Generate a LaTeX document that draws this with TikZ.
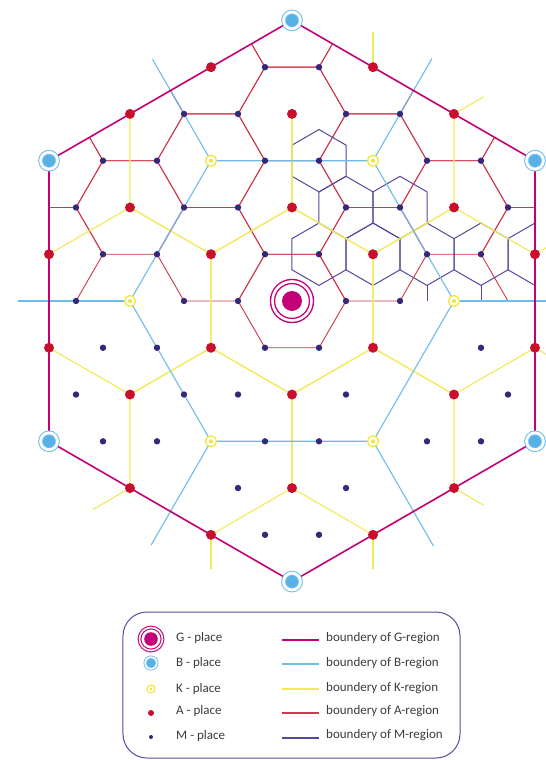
\documentclass[tikz,border=0pt]{standalone}
\usepackage{fontspec}
\setmainfont{Carlito}
\usetikzlibrary{calc}
\definecolor{colG}{HTML}{C40078}
\definecolor{colB}{HTML}{58B1E6}
\definecolor{colBl}{HTML}{6DBDEB}
\definecolor{colK}{HTML}{F2E62E}
\definecolor{colKl}{HTML}{F3EA55}
\definecolor{colA}{HTML}{C8102E}
\definecolor{colAl}{HTML}{D0364C}
\definecolor{colM}{HTML}{35277A}
\definecolor{colMl}{HTML}{56489A}
\definecolor{colBox}{HTML}{5A4B9E}
\definecolor{colTxt}{HTML}{3C3C3C}
\tikzset{
  gline/.style={draw=colG, line width=1.6bp},
  bline/.style={draw=colBl, line width=1.1bp},
  kline/.style={draw=colKl, line width=1.1bp},
  aline/.style={draw=colAl, line width=0.9bp},
  mline/.style={draw=colMl, line width=1bp},
  Gp/.style={circle, inner sep=0pt, fill=white, draw=colG, double=white,
             line width=1.4bp, double distance=2.6bp, minimum size=39bp,
             path picture={\fill[colG] (path picture bounding box.center) circle (10bp);}},
  Bp/.style={circle, inner sep=0pt, fill=colB, draw=colBl, double=white,
             line width=1bp, double distance=2.8bp, minimum size=16.8bp},
  Kp/.style={circle, inner sep=0pt, fill=white, draw=colK, line width=1.2bp,
             minimum size=11bp,
             path picture={\fill[colK] (path picture bounding box.center) circle (2bp);}},
  Ap/.style={circle, inner sep=0pt, fill=colA, minimum size=10bp},
  Mp/.style={circle, inner sep=0pt, fill=colM, minimum size=6.4bp},
  lbl/.style={anchor=base west, inner sep=0pt, text=colTxt,
              font=\fontsize{13bp}{15bp}\selectfont},
  hexA/.pic={\draw[aline] (0:54) \foreach \t in {60,120,...,300} {-- (\t:54)} -- cycle;},
  hexM/.pic={\draw[mline] (30:31.18) \foreach \t in {90,150,...,330} {-- (\t:31.18)} -- cycle;},
  hexK/.pic={\draw[kline] (30:93.53) \foreach \t in {90,150,...,330} {-- (\t:93.53)} -- cycle;},
}
\begin{document}
\begin{tikzpicture}[x=1bp, y=1bp]
  \def\Rg{280.59}
  \useasboundingbox (-292,-459) rectangle (254,301);
  \clip (-292,-459) rectangle (254,301);
  \fill[white] (-292,-459) rectangle (254,301);

  % A-regions: upper half and round G
  \begin{scope}
    \clip (90:\Rg) \foreach \t in {30,-30,...,-210} {-- (\t:\Rg)} -- cycle;
    \foreach \j in {0,...,6}{
      \foreach \i in {-9,...,9}{
        \pgfmathtruncatemacro\dst{max(abs(2*(\i)+(\j)),abs((\i)+2*(\j)),abs((\i)-(\j)))}
        \pgfmathtruncatemacro\isA{(\dst<10)&&(mod((\i)-(\j)+30,3)==0)&&((\j>0)||(\i==0))}
        \ifnum\isA=1
          \pic at ({54*\i+27*\j},{46.765*\j}) {hexA};
        \fi
      }
    }
  \end{scope}

  % M-regions
  \begin{scope}
    \clip (90:\Rg) \foreach \t in {30,-30,...,-210} {-- (\t:\Rg)} -- cycle;
    \foreach \i/\j in {-1/3,0/2,1/2,0/1,1/1,2/1,3/1,4/1}
      \pic at ({54*\i+27*\j},{46.765*\j}) {hexM};
    \foreach \x in {135,189}
      \draw[mline] (\x,15.59) -- (\x,0);
  \end{scope}

  % K-regions
  \pic at (0,0) {hexK};
  \foreach \a in {0,180,240,300}
    \pic at (\a:162) {hexK};
  \begin{scope}[shift={(120:162)}]
    \draw[kline] (90:93.53) \foreach \t in {150,210,270,330,390} {-- (\t:93.53)};
  \end{scope}
  \begin{scope}[shift={(60:162)}]
    \draw[kline] (90:93.53) \foreach \t in {30,-30,-90,-150,-210} {-- (\t:93.53)};
  \end{scope}
  \foreach \x/\y/\a/\l in {81/233.83/90/35, 162/187.06/30/34, 243/46.77/30/34,
                           243/-46.77/-30/34, 162/-187.06/-30/34, 81/-233.83/-90/34,
                           -81/-233.83/-90/34, -162/-187.06/210/43}
    \draw[kline] (\x,\y) -- ++(\a:\l);

  % B-region
  \draw[bline] (0:162) \foreach \a in {60,120,...,300} {-- (\a:162)} -- cycle;
  \foreach \a/\l in {0/112,60/118,120/117,180/112,240/120,300/121}
    \draw[bline] (\a:162) -- (\a:{162+\l});

  % G-region
  \draw[gline] (90:\Rg) \foreach \t in {30,-30,...,-210} {-- (\t:\Rg)} -- cycle;

  % places
  \foreach \j in {-6,...,6}{
    \foreach \i in {-9,...,9}{
      \pgfmathtruncatemacro\dst{max(abs(2*(\i)+(\j)),abs((\i)+2*(\j)),abs((\i)-(\j)))}
      \pgfmathtruncatemacro\lvl{(mod((\i)-(\j)+30,3)==0)+(mod((\i)-(\j)+30,3)==0)*(mod((\i)+30,3)==0)}
      \pgfmathtruncatemacro\hole{((\i==3)&&(\j==-1))||((\i==3)&&(\j==-2))||((\i==0)&&(\j==-4))||((\i==4)&&(\j==-4))||((\i==4)&&(\j==0))}
      \ifnum\dst<10
        \ifnum\lvl=1
          \node[Ap] (a\i\j) at ({54*\i+27*\j},{46.765*\j}) {};
        \fi
        \ifnum\lvl=0
          \ifnum\dst<9 \ifnum\hole=0
            \node[Mp] (m\i\j) at ({54*\i+27*\j},{46.765*\j}) {};
          \fi\fi
        \fi
      \fi
    }
  }
  \foreach \a in {0,60,...,300}
    \node[Kp] (k\a) at (\a:162) {};
  \foreach \a in {30,90,...,330}
    \node[Bp] (b\a) at (\a:\Rg) {};
  \node[Gp] (g) at (0,0) {};

  % legend
  \draw[draw=colBox, line width=1bp, rounded corners=24bp] (-169,-311) rectangle (168,-457);
  \node[Gp, minimum size=23bp, line width=1.1bp, double distance=1.6bp,
        path picture={\fill[colG] (path picture bounding box.center) circle (6.8bp);}]
        (lg) at (-141,-338) {};
  \node[Bp, minimum size=11.6bp, line width=0.9bp, double distance=1.6bp] (lb) at (-141,-362) {};
  \node[Kp, minimum size=8bp, line width=1bp,
        path picture={\fill[colK] (path picture bounding box.center) circle (1.6bp);}]
        (lk) at (-141,-388) {};
  \node[Ap, minimum size=6bp] (la) at (-141,-412) {};
  \node[Mp, minimum size=4bp] (lm) at (-141,-436) {};
  \node[lbl] (tg) at (-116,-340.2) {G - place};
  \node[lbl] (tb) at (-116,-365.2) {B - place};
  \node[lbl] (tk) at (-116,-391.2) {K - place};
  \node[lbl] (ta) at (-116,-413.2) {A - place};
  \node[lbl] (tm) at (-116,-438.2) {M - place};
  \draw[gline, line width=1.8bp] (-10,-339) -- (27,-339);
  \draw[bline] (-10,-363) -- (27,-363);
  \draw[kline] (-10,-388) -- (27,-388);
  \draw[aline, line width=1.1bp] (-10,-412) -- (27,-412);
  \draw[mline, line width=1.6bp] (-10,-437) -- (27,-437);
  \node[lbl] (rg) at (34,-340.9) {boundery of G-region};
  \node[lbl] (rb) at (34,-365.5) {boundery of B-region};
  \node[lbl] (rk) at (34,-390.2) {boundery of K-region};
  \node[lbl] (ra) at (34,-413.2) {boundery of A-region};
  \node[lbl] (rm) at (34,-437.2) {boundery of M-region};
\end{tikzpicture}
\end{document}
